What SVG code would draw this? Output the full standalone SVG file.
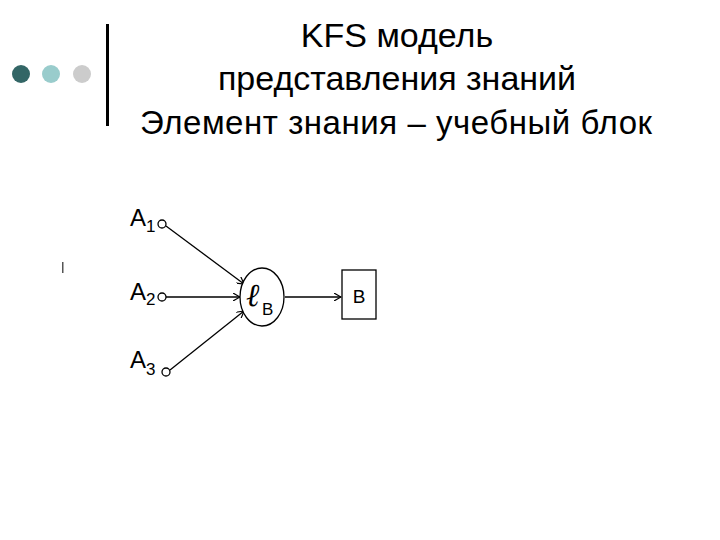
<svg xmlns="http://www.w3.org/2000/svg" width="720" height="540" viewBox="0 0 720 540">
<style>
.t{font-family:"Liberation Sans",Arial,sans-serif;fill:#000}
.c{stroke:#000;stroke-width:1.3;fill:none}
.o{stroke:#000;stroke-width:1.3;fill:#fff}
</style>
<defs><marker id="a" markerWidth="8" markerHeight="8" refX="7" refY="4" orient="auto" markerUnits="userSpaceOnUse"><path d="M0,0 L7,4 L0,8" fill="none" stroke="#000" stroke-width="1.2"/></marker></defs>
<rect width="720" height="540" fill="#fff"/>
<g id="header">
<circle cx="21" cy="74" r="9" fill="#336666"/>
<circle cx="51" cy="74" r="9" fill="#99cccc"/>
<circle cx="82" cy="74" r="9" fill="#cccccc"/>
<rect x="106" y="24" width="3" height="102" fill="#000"/>
<rect x="62" y="262" width="1.5" height="11" fill="#555"/>
<text class="t" x="397" y="47" font-size="34" text-anchor="middle">KFS модель</text>
<text class="t" x="397" y="90" font-size="34" text-anchor="middle">представления знаний</text>
<text class="t" x="140" y="134" font-size="33" textLength="512">Элемент знания – учебный блок</text>
</g>
<g id="connectors">
<line class="c" x1="166" y1="226" x2="244" y2="284" marker-end="url(#a)"/>
<line class="c" x1="166" y1="297" x2="240" y2="297" marker-end="url(#a)"/>
<line class="c" x1="170" y1="370" x2="244" y2="311" marker-end="url(#a)"/>
<line class="c" x1="285" y1="297" x2="341" y2="297" marker-end="url(#a)"/>
</g>
<g id="A1"><text class="t" x="130" y="226" font-size="24">A</text><text class="t" x="146" y="232" font-size="17">1</text><circle class="o" cx="162" cy="224" r="4"/></g>
<g id="A2"><text class="t" x="130" y="300" font-size="24">A</text><text class="t" x="146" y="305" font-size="17">2</text><circle class="o" cx="162" cy="297" r="4"/></g>
<g id="A3"><text class="t" x="130" y="368" font-size="24">A</text><text class="t" x="146" y="375" font-size="17">3</text><circle class="o" cx="166" cy="372" r="4"/></g>
<g id="lB"><ellipse class="o" cx="262" cy="297" rx="22" ry="29"/><text x="246" y="306" font-size="32" font-style="italic" font-family="'Liberation Serif',serif">ℓ</text><text class="t" x="262" y="315" font-size="17">B</text></g>
<g id="B"><rect class="o" x="342" y="270" width="34" height="49"/><text class="t" x="359" y="303" font-size="19" text-anchor="middle">B</text></g>
</svg>
